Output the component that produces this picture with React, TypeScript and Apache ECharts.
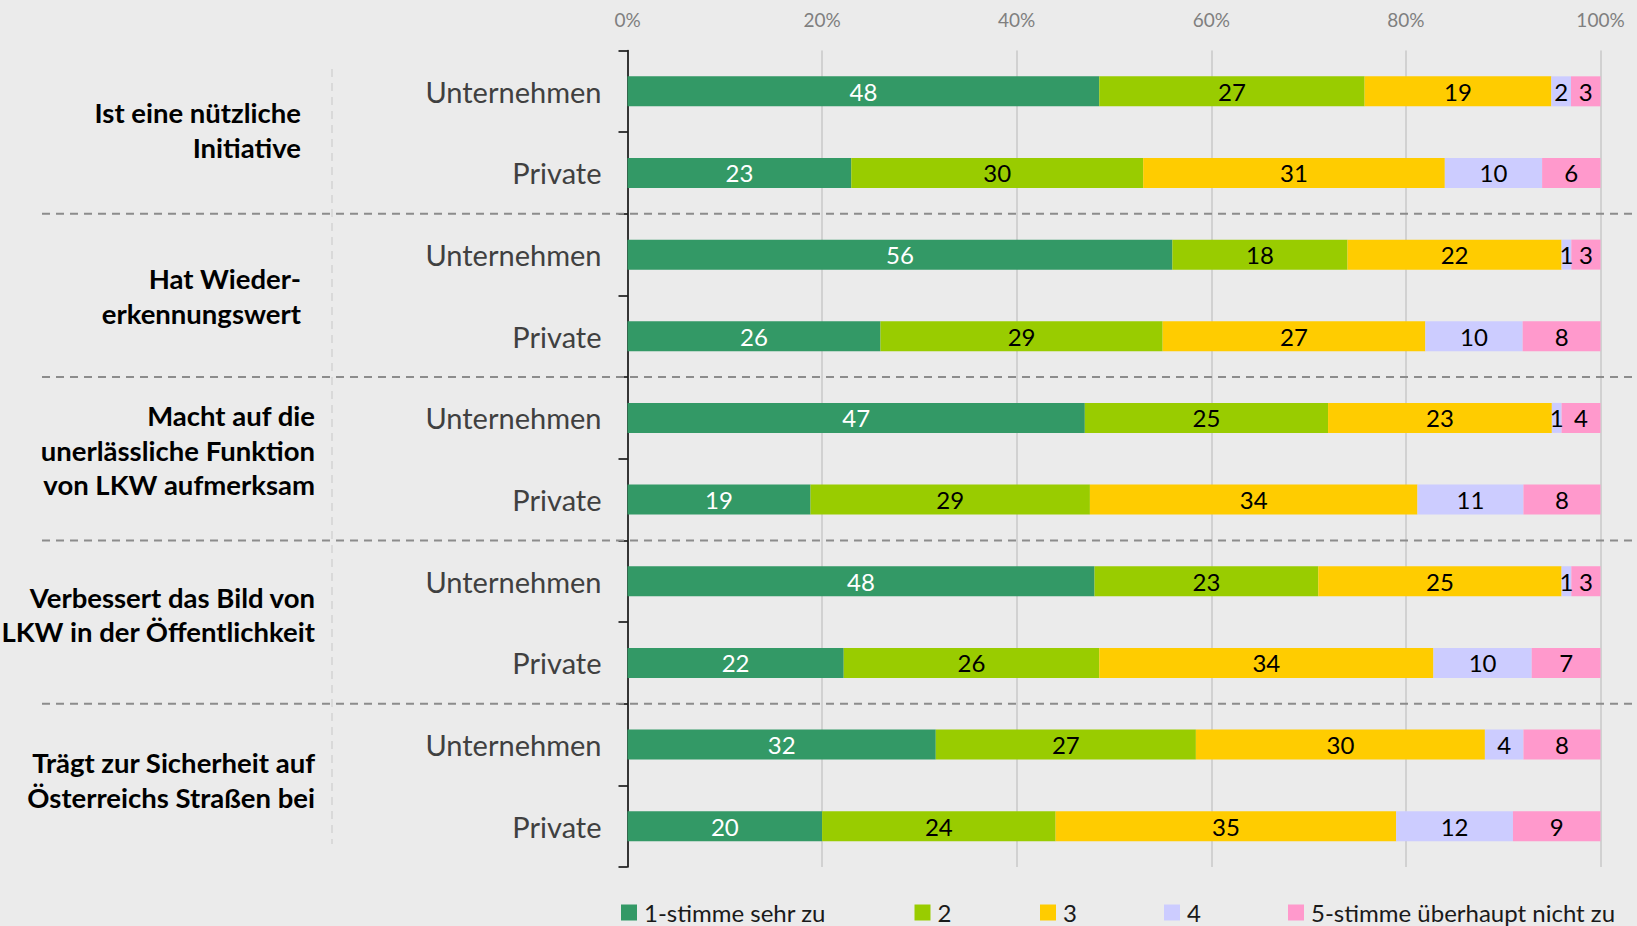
import React, { useEffect, useRef } from "react";
import * as echarts from "echarts";

// ---- data ----
const groupLabels: string[][] = [
  ["Ist eine nützliche", "Initiative"],
  ["Hat Wieder-", "erkennungswert"],
  ["Macht auf die", "unerlässliche Funktion", "von LKW aufmerksam"],
  ["Verbessert das Bild von", "LKW in der Öffentlichkeit"],
  ["Trägt zur Sicherheit auf", "Österreichs Straßen bei"],
];
const respondents = ["Unternehmen", "Private"];
const categories = groupLabels.flatMap(() => respondents);
const seriesNames = ["1-stimme sehr zu", "2", "3", "4", "5-stimme überhaupt nicht zu"];
const s1 = [48, 23, 56, 26, 47, 19, 48, 22, 32, 20];
const s2 = [27, 30, 18, 29, 25, 29, 23, 26, 27, 24];
const s3 = [19, 31, 22, 27, 23, 34, 25, 34, 30, 35];
const s4 = [2, 10, 1, 10, 1, 11, 1, 10, 4, 12];
const s5 = [3, 6, 3, 8, 4, 8, 3, 7, 8, 9];
const xMin = 0;
const xMax = 100;
const xStep = 20;

// ---- styles / layout ----
const colors = ["#339966", "#99CC00", "#FFCC00", "#CCCCFF", "#FF99CC"];
const FONT = "Lato, 'Noto Sans', sans-serif";
const W = 1637;
const H = 926;
const GRID_LEFT = 627.5;
const GRID_RIGHT = 36.5;
const GRID_TOP = 50.5;
const GRID_BOTTOM = 59;
const legendX = [621, 914.5, 1040, 1164, 1288];
const groupLabelPos = [
  { x: 301, y: 130 },
  { x: 301, y: 296 },
  { x: 315, y: 450 },
  { x: 315, y: 614.5 },
  { x: 315, y: 780 },
];

export default function App() {
  const ref = useRef<HTMLDivElement>(null);
  useEffect(() => {
    document.body.style.margin = "0";
    document.body.style.background = "#ebebeb";
    const chart = echarts.init(ref.current!, undefined, { renderer: "svg" });
    const raw = [s1, s2, s3, s4, s5];
    const totals = categories.map((_, i) => raw.reduce((a, s) => a + s[i], 0));
    const catH = (H - GRID_TOP - GRID_BOTTOM) / categories.length;

    const graphics: any[] = [];
    for (let k = 1; k < groupLabels.length; k++) {
      const y = GRID_TOP + 2 * k * catH;
      graphics.push({
        type: "line",
        z: 100,
        shape: { x1: 42, y1: y, x2: W, y2: y },
        style: { stroke: "#8c8c8c", lineWidth: 2, lineDash: [8, 6] },
      });
    }
    graphics.push({
      type: "line",
      shape: { x1: 332, y1: 69, x2: 332, y2: 844 },
      style: { stroke: "#d9d9d9", lineWidth: 2, lineDash: [8, 6] },
    });
    groupLabels.forEach((lines, i) => {
      graphics.push({
        type: "text",
        x: groupLabelPos[i].x,
        y: groupLabelPos[i].y,
        style: {
          text: lines.join("\n"),
          align: "right",
          verticalAlign: "middle",
          fontFamily: FONT,
          fontWeight: "bold",
          fontSize: 27.5,
          lineHeight: 34.5,
          fill: "#000",
        },
      });
    });

    chart.setOption({
      animation: false,
      backgroundColor: "#ebebeb",
      grid: { left: GRID_LEFT, right: GRID_RIGHT, top: GRID_TOP, bottom: GRID_BOTTOM, containLabel: false },
      legend: seriesNames.map((n, i) => ({
        data: [n],
        left: legendX[i],
        top: 899.5,
        padding: 0,
        itemWidth: 16,
        itemHeight: 16,
        icon: "rect",
        selectedMode: false,
        textStyle: { fontFamily: FONT, fontSize: 24, color: "#1a1a1a", lineHeight: 26, padding: [0, 0, 0, 2] },
      })),
      xAxis: {
        type: "value",
        position: "top",
        min: xMin,
        max: xMax,
        interval: xStep,
        axisLabel: { formatter: "{value}%", color: "#7f7f7f", fontSize: 19, fontFamily: FONT, margin: 22 },
        axisLine: { show: false },
        axisTick: { show: false },
        splitLine: { lineStyle: { color: "#c8c8c8", width: 1.5 } },
      },
      yAxis: {
        type: "category",
        inverse: true,
        data: categories,
        axisLine: { lineStyle: { color: "#000", width: 1.5 } },
        axisTick: { show: true, length: 9, lineStyle: { color: "#000", width: 1.5 } },
        axisLabel: { fontSize: 29, color: "#404040", fontFamily: FONT, margin: 26, interval: 0 },
      },
      graphic: graphics,
      series: raw.map((s, k) => ({
        name: seriesNames[k],
        type: "bar",
        stack: "total",
        barWidth: 30,
        itemStyle: { color: colors[k] },
        label: {
          show: true,
          position: "inside",
          color: k === 0 ? "#fff" : "#000",
          fontSize: 24,
          fontFamily: FONT,
          formatter: (p: any) => String(s[p.dataIndex]),
        },
        data: s.map((v, i) => (v / totals[i]) * 100),
      })),
    });
    return () => chart.dispose();
  }, []);
  return <div ref={ref} style={{ width: W, height: H }} />;
}
